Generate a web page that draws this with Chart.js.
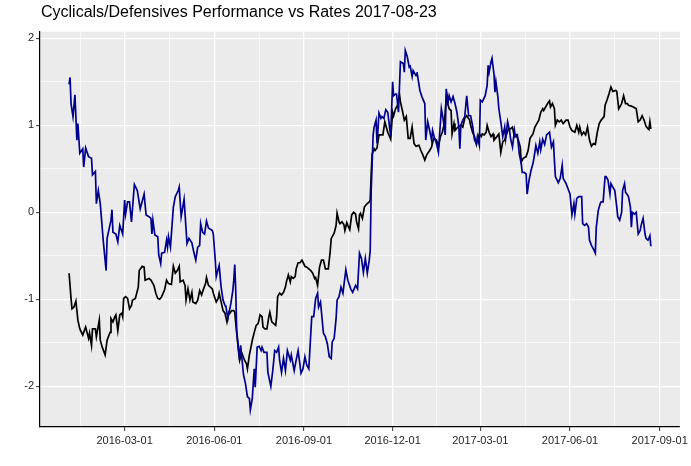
<!DOCTYPE html>
<html>
<head>
<meta charset="utf-8">
<title>Cyclicals/Defensives Performance vs Rates</title>
<script src="https://cdn.jsdelivr.net/npm/chart.js@4.4.1/dist/chart.umd.min.js"></script>
<style>
  html, body { margin: 0; padding: 0; background: #ffffff; }
  #wrap { width: 691px; height: 466px; }
</style>
</head>
<body>
<div id="wrap"><canvas id="chart" width="691" height="466"></canvas></div>
<script>
const titleText = 'Cyclicals/Defensives Performance vs Rates 2017-08-23';

// x positions are days counted from 2016-03-01
const xMin = -86.85;
const xMax = 569.85;
const majorDays = [0, 92, 184, 275, 365, 457, 549];
const majorLabels = ['2016-03-01', '2016-06-01', '2016-09-01', '2016-12-01', '2017-03-01', '2017-06-01', '2017-09-01'];
const minorDays = [-45.5, 46, 138, 229.5, 320, 411, 503];

const yMin = -2.468;
const yMax = 2.076;
const yMajor = [-2, -1, 0, 1, 2];
const yMinor = [-1.5, -0.5, 0.5, 1.5];

const blueDays = [
  -57, -56, -55, -53, -51, -49, -48, -46, -43, -42, -40, -37, -34, -33, -30, -29, -27, -25, -22, -19,
  -18, -14, -13, -12, -9, -7, -5, -2, 0, 1, 3, 5, 7, 10, 13, 16, 20, 22, 25, 27,
  28, 29, 31, 34, 35, 37, 38, 41, 43, 44, 45, 47, 50, 52, 55, 56,
  58, 61, 64, 66, 69, 71, 73, 75, 77, 78, 80, 82, 84, 86, 90, 91, 93, 94, 96, 97,
  99, 101, 103, 104, 106, 107, 109, 111, 112, 113, 114, 115, 118, 119, 120, 122, 124, 126, 128, 129,
  131, 132, 133, 134, 136, 138, 140, 141, 143, 146, 147, 150, 152, 154, 156, 158, 159, 161, 163, 165,
  167, 170, 171, 174, 176,
  178, 180, 181, 183, 185, 187, 189, 192, 194, 196, 198, 199, 201, 204, 206, 208, 210, 212, 213, 215,
  217, 218, 220, 222, 224, 227, 229, 232, 234, 237, 239, 241, 243, 245, 247, 249, 251, 252, 253, 255,
  256, 258, 259, 261, 263, 264, 266, 268, 270, 271, 273, 275, 276, 278, 279, 281, 283, 286, 287, 288,
  290, 292, 293, 295, 296, 299, 300,
  303, 305, 308, 309, 311, 313, 315, 316, 318, 320, 322, 325, 327, 329, 330, 332, 333, 335, 337, 339,
  341, 343, 344, 345, 347, 349, 351, 353, 355, 357, 359, 361, 362, 364, 365, 367, 370, 372, 373, 374,
  376, 377, 379, 380, 381, 383, 384, 386, 388, 390, 391, 393, 395, 396, 398, 400, 401, 403, 405, 407,
  408, 410, 412, 413, 415, 417, 419, 420, 422,
  424, 426, 427, 429, 431, 433, 435, 436, 438, 440, 441, 442, 445, 447, 449, 450, 453, 455, 457, 459,
  461, 462, 464, 466, 467, 469, 470, 472, 474, 476, 477, 479, 481, 483, 484, 486, 488, 489, 491, 493,
  494, 496, 498, 499, 501, 503, 505, 506, 508, 510, 511, 513, 514, 516, 517, 519, 520, 521, 523, 525,
  527, 529, 530, 532, 534, 535, 537, 538, 539, 540
];
const blueValues = [
  1.47, 1.55, 1.25, 1.10, 1.35, 0.83, 1.02, 0.68, 0.73, 0.52, 0.74, 0.64, 0.62, 0.43, 0.47, 0.10, 0.25, 0.10, -0.32, -0.67,
  -0.30, -0.09, 0.03, -0.23, -0.25, -0.34, -0.15, -0.25, 0.14, -0.02, 0.12, 0.12, -0.11, 0.32, 0.25, 0.04, 0.21, -0.03, -0.05, -0.07,
  -0.25, -0.09, -0.26, -0.28, -0.49, -0.59, -0.47, -0.46, -0.32, -0.40, -0.28, -0.40, 0.06, 0.18, 0.25, 0.29,
  -0.05, 0.15, -0.36, -0.30, -0.35, -0.46, -0.55, -0.40, -0.38, -0.13, -0.23, -0.25, -0.10, -0.18, -0.21, -0.25, -0.55, -0.74, -0.65, -0.61,
  -0.86, -1.01, -1.07, -1.09, -1.22, -1.16, -1.05, -0.90, -0.78, -0.60, -0.90, -1.36, -1.70, -1.53, -1.64, -1.87, -1.97, -2.12, -2.14, -2.27,
  -2.14, -1.97, -1.80, -2.01, -1.55, -1.54, -1.59, -1.55, -1.61, -1.61, -1.84, -2.00, -1.82, -1.59, -1.61, -1.55, -1.70, -1.84, -1.68, -1.82,
  -1.59, -1.70, -1.64, -1.82, -1.70,
  -1.59, -1.76, -1.85, -1.80, -1.66, -1.76, -1.80, -1.20, -1.20, -0.99, -0.93, -1.09, -1.03, -1.39, -1.43, -1.51, -1.66, -1.68, -1.49, -1.45,
  -1.22, -1.01, -0.97, -0.86, -0.93, -0.66, -0.78, -0.88, -0.92, -0.84, -0.88, -0.47, -0.53, -0.69, -0.53, -0.70, -0.55, -0.44, 0.25, 0.89,
  0.98, 1.06, 0.79, 1.14, 1.08, 1.10, 1.08, 1.18, 1.15, 1.06, 0.87, 1.50, 1.34, 1.36, 1.36, 1.15, 1.73, 1.71, 1.61, 1.86,
  1.79, 1.67, 1.68, 1.56, 1.63, 1.57, 1.61,
  1.40, 1.33, 1.25, 0.83, 1.04, 0.94, 0.83, 0.94, 0.85, 0.79, 0.69, 1.19, 1.06, 0.89, 1.42, 1.27, 1.34, 1.27, 1.33, 1.25,
  1.15, 0.98, 0.73, 1.00, 1.06, 1.10, 1.34, 1.11, 1.11, 1.00, 0.83, 0.79, 0.87, 0.77, 1.29, 1.27, 1.34, 1.46, 1.69, 1.61,
  1.73, 1.77, 1.59, 1.38, 1.50, 1.33, 1.19, 1.04, 0.87, 0.98, 0.85, 1.04, 0.94, 0.85, 0.75, 0.94, 0.87, 0.89, 0.67, 0.56,
  0.46, 0.46, 0.44, 0.21, 0.37, 0.48, 0.56, 0.62, 0.77,
  0.68, 0.81, 0.72, 0.84, 0.78, 0.89, 0.91, 0.92, 0.75, 0.81, 0.60, 0.41, 0.34, 0.39, 0.54, 0.39, 0.33, 0.27, 0.21, -0.03,
  0.10, -0.02, 0.16, 0.18, 0.18, 0.18, -0.13, -0.15, -0.13, -0.17, -0.32, -0.38, -0.42, -0.47, -0.17, 0.02, 0.10, 0.12, 0.12, 0.41,
  0.41, 0.37, 0.21, 0.33, 0.29, 0.25, 0.06, -0.05, -0.09, 0.00, 0.25, 0.33, 0.23, 0.20, 0.18, 0.06, -0.17, 0.00, -0.02, 0.00,
  -0.25, -0.21, -0.15, -0.07, -0.25, -0.30, -0.32, -0.30, -0.27, -0.39
];

const blackDays = [
  -57, -55, -54, -52, -50, -48, -46, -43, -42, -40, -37, -36, -34, -33, -30, -29, -26, -25, -23, -20,
  -18, -15, -14, -12, -10, -9, -7, -5, -3, -2, -1, 1, 3, 5, 7, 8, 11, 14, 15, 18,
  20, 21, 25, 27, 30, 32, 34, 36, 38, 41, 43, 45, 48, 50, 52, 54, 56,
  57, 60, 62, 63, 65, 67, 69, 70, 73, 75, 77, 79, 81, 83, 84, 86, 90, 91, 94, 96,
  97, 99, 101, 103, 105, 107, 108, 110, 112, 113, 115, 117, 118, 120, 121, 123, 125, 126, 128, 130,
  131, 133, 135, 137, 139, 141, 142, 144, 146, 148, 149, 151, 153, 155, 156, 157, 159, 161, 163, 165,
  166, 168, 170, 171, 173, 175, 176,
  178, 180, 182, 185, 187, 191, 193, 195, 196, 198, 200, 202, 204, 206, 209, 211, 212, 215, 217, 218,
  220, 221, 223, 225, 226, 228, 229, 231, 233, 235, 237, 238, 240, 241, 242, 244, 246, 248, 249, 251,
  252, 253, 254, 256, 257, 259, 261, 263, 265, 267, 268, 270, 273, 275, 276, 278, 280, 282, 283, 285,
  287, 289, 291, 293, 295, 297, 299, 302,
  304, 306, 308, 310, 313, 315, 317, 320, 322, 324, 326, 328, 330, 332, 333, 335, 336, 338, 339, 342,
  345, 347, 349, 351, 354, 355, 357, 359, 361, 362, 364, 366, 367, 369, 371, 372, 374, 376, 378, 379,
  382, 384, 386, 388, 390, 392, 394, 396, 398, 400, 402, 404, 406, 407, 409, 412, 414, 416, 419, 421, 423,
  425, 427, 429, 430, 432, 434, 436, 437, 439, 441, 442, 444, 446, 448, 450, 453, 455, 457, 459, 462,
  464, 466, 467, 469, 471, 473, 475, 477, 479, 481, 483, 485, 487, 489, 492, 493, 495, 497, 499, 501,
  504, 505, 507, 509, 510, 512, 514, 516, 517, 520, 522, 525, 527, 529, 531, 533, 535, 537, 538, 539, 540
];
const blackValues = [
  -0.70, -0.99, -1.11, -1.09, -1.02, -1.24, -1.34, -1.41, -1.38, -1.32, -1.45, -1.39, -1.53, -1.34, -1.34, -1.43, -1.24, -1.47, -1.55, -1.64,
  -1.47, -1.38, -1.22, -1.26, -1.20, -1.18, -1.36, -1.18, -1.16, -1.20, -0.99, -0.97, -0.99, -1.11, -1.07, -1.01, -0.99, -0.86, -0.67, -0.62,
  -0.63, -0.78, -0.76, -0.78, -0.84, -0.93, -0.99, -1.00, -0.97, -0.89, -0.78, -0.82, -0.83, -0.62, -0.70, -0.67, -0.62,
  -0.80, -0.78, -0.84, -1.01, -0.88, -1.01, -0.92, -1.03, -1.05, -1.01, -0.90, -0.95, -0.88, -0.82, -0.75, -0.84, -0.88, -0.93, -1.03, -0.99,
  -0.93, -1.03, -1.13, -1.16, -1.26, -1.15, -1.16, -1.13, -1.13, -1.15, -1.39, -1.61, -1.70, -1.61, -1.64, -1.70, -1.74, -1.80, -1.64, -1.53,
  -1.47, -1.38, -1.30, -1.28, -1.18, -1.20, -1.32, -1.34, -1.34, -1.20, -1.15, -1.26, -1.28, -1.30, -1.20, -0.97, -0.93, -0.95, -0.92, -0.86,
  -0.80, -0.72, -0.80, -0.74, -0.76, -0.74, -0.65,
  -0.58, -0.58, -0.55, -0.62, -0.63, -0.67, -0.70, -0.76, -0.75, -0.84, -0.63, -0.55, -0.55, -0.65, -0.65, -0.44, -0.30, -0.24, -0.15, -0.01,
  -0.11, -0.13, -0.11, -0.14, -0.21, -0.12, -0.15, -0.20, -0.03, 0.00, -0.02, -0.11, -0.19, -0.03, -0.01, -0.07, 0.06, 0.09, 0.10, 0.12,
  0.14, 0.44, 0.67, 0.73, 0.71, 0.74, 0.89, 0.89, 0.89, 1.04, 1.00, 0.92, 0.84, 1.15, 1.11, 1.19, 1.23, 1.36, 1.27, 1.17,
  1.06, 1.10, 0.85, 0.85, 0.98, 0.79, 0.76, 0.77,
  0.71, 0.66, 0.60, 0.66, 0.71, 0.75, 0.85, 0.83, 0.75, 0.87, 0.92, 1.02, 1.31, 1.23, 1.19, 1.17, 0.90, 1.02, 0.94, 0.98,
  1.00, 0.98, 1.08, 1.11, 1.06, 1.00, 0.92, 0.87, 0.78, 0.83, 0.90, 0.87, 0.90, 0.89, 0.92, 1.00, 0.92, 0.87, 0.90, 0.83,
  0.87, 0.90, 0.69, 0.81, 0.83, 0.90, 0.96, 0.96, 0.98, 0.87, 0.89, 0.83, 0.75, 0.58, 0.62, 0.64, 0.71, 0.85, 0.90, 0.98, 1.02,
  1.06, 1.15, 1.19, 1.17, 1.21, 1.25, 1.28, 1.21, 1.25, 1.19, 1.00, 1.06, 1.04, 1.06, 1.02, 1.06, 1.06, 0.98, 0.94, 0.92,
  1.00, 0.92, 0.98, 0.89, 0.92, 0.89, 0.98, 0.83, 0.76, 0.79, 0.78, 0.92, 1.02, 1.06, 1.10, 1.23, 1.29, 1.36, 1.44, 1.39,
  1.40, 1.39, 1.19, 1.23, 1.25, 1.34, 1.25, 1.25, 1.23, 1.22, 1.21, 1.19, 1.04, 1.06, 1.11, 1.06, 0.99, 0.96, 0.95, 1.04, 0.96
];

const FONT = '"Liberation Sans", Arial, Helvetica, sans-serif';

function toPoints(days, values) {
    return days.map((d, i) => ({ x: d, y: values[i] }));
}

function isMajorX(v) { return majorDays.includes(v); }
function isMajorY(v) { return yMajor.includes(v); }

// grey panel behind the grid, and the title aligned with the panel
const panelPlugin = {
    id: 'panel',
    beforeDraw(chart) {
        const { ctx, chartArea: a } = chart;
        ctx.save();
        ctx.fillStyle = '#ebebeb';
        ctx.fillRect(a.left, a.top, a.right - a.left, a.bottom - a.top);
        ctx.restore();
    },
    afterDraw(chart) {
        const ctx = chart.ctx;
        ctx.save();
        ctx.font = '16px ' + FONT;
        ctx.fillStyle = '#000000';
        ctx.textAlign = 'left';
        ctx.textBaseline = 'alphabetic';
        ctx.fillText(titleText, chart.chartArea.left + 1, 16.7);
        ctx.restore();
    }
};

document.addEventListener('DOMContentLoaded', function () {
    const ctx = document.getElementById('chart').getContext('2d');

    new Chart(ctx, {
        type: 'line',
        data: {
            datasets: [
                {
                    label: 'Rates',
                    data: toPoints(blueDays, blueValues),
                    borderColor: '#00008b',
                    borderWidth: 1.7,
                    pointRadius: 0,
                    tension: 0,
                    fill: false
                },
                {
                    label: 'Cyclicals/Defensives',
                    data: toPoints(blackDays, blackValues),
                    borderColor: '#000000',
                    borderWidth: 1.7,
                    pointRadius: 0,
                    tension: 0,
                    fill: false
                }
            ]
        },
        options: {
            responsive: false,
            animation: false,
            layout: { padding: { top: 31.7, right: 7, bottom: 0, left: 0 } },
            plugins: {
                legend: { display: false },
                title: { display: false },
                tooltip: { enabled: false }
            },
            scales: {
                x: {
                    type: 'linear',
                    min: xMin,
                    max: xMax,
                    afterBuildTicks: (s) => {
                        s.ticks = majorDays.concat(minorDays).sort((a, b) => a - b).map(v => ({ value: v }));
                    },
                    afterFit: (s) => { s.height = 39; },
                    grid: {
                        color: '#ffffff',
                        lineWidth: (c) => isMajorX(c.tick.value) ? 1.3 : 0.65,
                        drawTicks: true,
                        tickLength: 4,
                        tickWidth: 1,
                        tickColor: (c) => isMajorX(c.tick.value) ? '#333333' : 'rgba(0,0,0,0)'
                    },
                    border: { display: true, color: '#000000', width: 1.2 },
                    ticks: {
                        autoSkip: false,
                        maxRotation: 0,
                        padding: 3,
                        color: '#1f1f1f',
                        font: { family: FONT, size: 11 },
                        callback: (v) => {
                            const i = majorDays.indexOf(v);
                            return i >= 0 ? majorLabels[i] : '';
                        }
                    }
                },
                y: {
                    type: 'linear',
                    min: yMin,
                    max: yMax,
                    afterBuildTicks: (s) => {
                        s.ticks = yMajor.concat(yMinor).sort((a, b) => a - b).map(v => ({ value: v }));
                    },
                    afterFit: (s) => { s.width = 40; },
                    grid: {
                        color: '#ffffff',
                        lineWidth: (c) => isMajorY(c.tick.value) ? 1.3 : 0.65,
                        drawTicks: true,
                        tickLength: 4,
                        tickWidth: 1,
                        tickColor: (c) => isMajorY(c.tick.value) ? '#333333' : 'rgba(0,0,0,0)'
                    },
                    border: { display: true, color: '#000000', width: 1.2 },
                    ticks: {
                        autoSkip: false,
                        padding: 2,
                        color: '#1f1f1f',
                        font: { family: FONT, size: 11 },
                        callback: (v) => isMajorY(v) ? String(v) : ''
                    }
                }
            }
        },
        plugins: [panelPlugin]
    });
});
</script>
</body>
</html>
